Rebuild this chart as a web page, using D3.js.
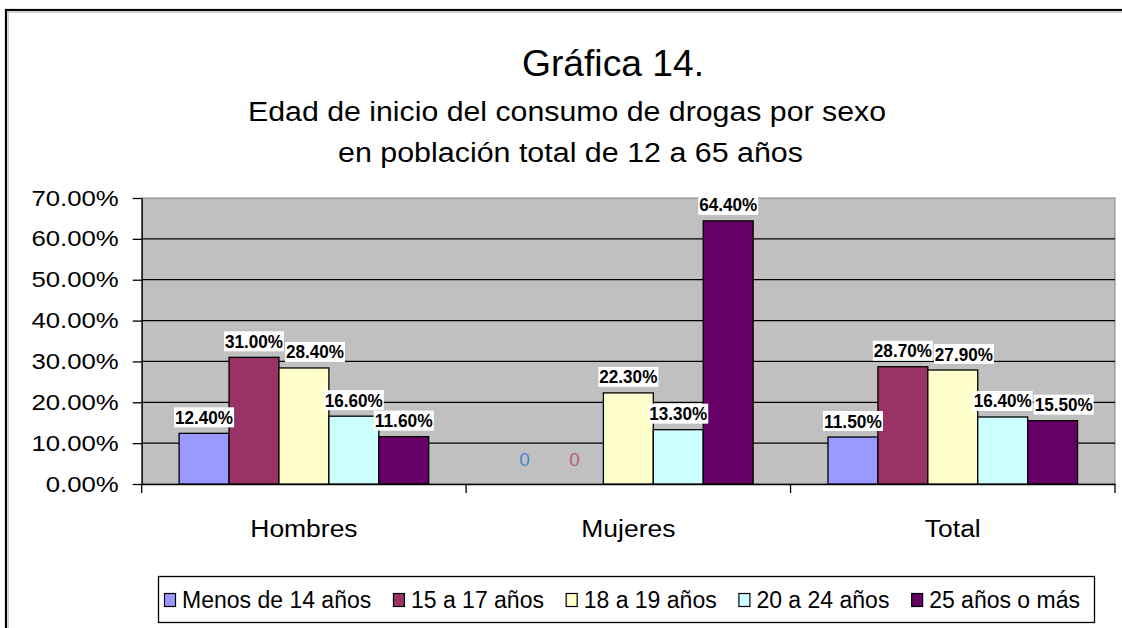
<!DOCTYPE html>
<html>
<head>
<meta charset="utf-8">
<script src="https://cdn.jsdelivr.net/npm/d3@7"></script>
<style>
  html, body { margin: 0; padding: 0; background: #fff; }
  svg { display: block; font-family: "Liberation Sans", Arial, sans-serif; }
</style>
</head>
<body>
<svg id="chart" width="1122" height="628"></svg>
<script>
// ---- data ----
const categories = ["Hombres", "Mujeres", "Total"];
const seriesNames = ["Menos de 14 años", "15 a 17 años", "18 a 19 años", "20 a 24 años", "25 años o más"];
const menos14 = [12.4, 0, 11.5];
const de15a17 = [31.0, 0, 28.7];
const de18a19 = [28.4, 22.3, 27.9];
const de20a24 = [16.6, 13.3, 16.4];
const de25mas = [11.6, 64.4, 15.5];
const yTicks = [0, 10, 20, 30, 40, 50, 60, 70];
const titleText = "Gráfica 14.";
const subtitle1 = "Edad de inicio del consumo de drogas por sexo";
const subtitle2 = "en población total de 12 a 65 años";

// ---- styles ----
const colors = ["#9999FF", "#993366", "#FFFFCC", "#CCFFFF", "#660066"];
const zeroColors = ["#3f87d3", "#b55d88", "#666", "#666", "#666"];

const seriesValues = [menos14, de15a17, de18a19, de20a24, de25mas];

const svg = d3.select("#chart");

// outer frame
svg.append("rect").attr("x", 6).attr("y", 10).attr("width", 1140).attr("height", 640)
  .attr("fill", "none").attr("stroke", "#000").attr("stroke-width", 2.2);
svg.append("rect").attr("x", 8.2).attr("y", 12.2).attr("width", 1140).attr("height", 640)
  .attr("fill", "none").attr("stroke", "#aaa").attr("stroke-width", 0.8);

// titles
svg.append("text").attr("x", 613).attr("y", 76).attr("text-anchor", "middle")
  .attr("font-size", 37).attr("fill", "#000")
  .attr("textLength", 182).attr("lengthAdjust", "spacingAndGlyphs").text(titleText);
svg.append("text").attr("x", 567).attr("y", 121).attr("text-anchor", "middle")
  .attr("font-size", 27).attr("fill", "#000")
  .attr("textLength", 638).attr("lengthAdjust", "spacingAndGlyphs").text(subtitle1);
svg.append("text").attr("x", 570.5).attr("y", 162).attr("text-anchor", "middle")
  .attr("font-size", 27).attr("fill", "#000")
  .attr("textLength", 465).attr("lengthAdjust", "spacingAndGlyphs").text(subtitle2);

// scales
const plotL = 141.7, plotR = 1115, plotT = 198, plotB = 484;
const x0 = d3.scaleBand().domain(categories).range([plotL, plotR]).paddingInner(0).paddingOuter(0);
const x1 = d3.scaleBand().domain(seriesNames).range([0, x0.bandwidth()]).paddingInner(0).paddingOuter(0.75);
const y = d3.scaleLinear().domain([0, 70]).range([plotB, plotT]);

// plot background
svg.append("rect").attr("x", plotL).attr("y", plotT).attr("width", plotR - plotL).attr("height", plotB - plotT)
  .attr("fill", "#C0C0C0").attr("stroke", "#808080").attr("stroke-width", 1);

// gridlines
svg.append("g").selectAll("line").data(yTicks.filter(t => t > 0 && t < 70)).join("line")
  .attr("x1", plotL).attr("x2", plotR)
  .attr("y1", d => y(d)).attr("y2", d => y(d))
  .attr("stroke", "#000").attr("stroke-width", 1.3);

// y axis
const yAxis = svg.append("g").attr("transform", `translate(${plotL},0)`)
  .call(d3.axisLeft(y).tickValues(yTicks).tickFormat(d => d.toFixed(2) + "%").tickSize(9).tickSizeOuter(0).tickPadding(14));
yAxis.select(".domain").attr("stroke", "#000").attr("stroke-width", 1.3);
yAxis.selectAll(".tick line").attr("stroke", "#000").attr("stroke-width", 1.3);
yAxis.selectAll(".tick text").attr("font-size", 22).attr("fill", "#000")
  .attr("font-family", "'Liberation Sans', Arial, sans-serif")
  .each(function () {
    const w = this.getComputedTextLength();
    d3.select(this).attr("textLength", w * 1.17).attr("lengthAdjust", "spacingAndGlyphs");
  });

// x axis
const xAxis = svg.append("g").attr("transform", `translate(0,${plotB})`)
  .call(d3.axisBottom(x0).tickSize(0).tickPadding(37));
xAxis.select(".domain").attr("stroke", "#000").attr("stroke-width", 1.3);
xAxis.selectAll(".tick text").attr("font-size", 23).attr("fill", "#000")
  .attr("font-family", "'Liberation Sans', Arial, sans-serif")
  .each(function () {
    const w = this.getComputedTextLength();
    d3.select(this).attr("textLength", w * 1.15).attr("lengthAdjust", "spacingAndGlyphs");
  });
// category boundary ticks
const boundaries = categories.map(c => x0(c)).concat([x0(categories[categories.length - 1]) + x0.bandwidth()]);
svg.append("g").selectAll("line").data(boundaries).join("line")
  .attr("x1", d => d).attr("x2", d => d).attr("y1", plotB).attr("y2", plotB + 9)
  .attr("stroke", "#000").attr("stroke-width", 1.3);

// bars
const barData = [];
categories.forEach((c, ci) => {
  seriesNames.forEach((s, si) => {
    barData.push({ cat: c, ser: s, si, value: seriesValues[si][ci] });
  });
});
svg.append("g").selectAll("rect").data(barData.filter(d => d.value > 0)).join("rect")
  .attr("x", d => x0(d.cat) + x1(d.ser))
  .attr("y", d => y(d.value))
  .attr("width", x1.bandwidth())
  .attr("height", d => y(0) - y(d.value))
  .attr("fill", d => colors[d.si])
  .attr("stroke", "#000").attr("stroke-width", 1.3);

// data labels with simple collision avoidance
const labelW = 60, labelH = 20;
const labelG = svg.append("g");
categories.forEach(c => {
  const placed = [];
  barData.filter(d => d.cat === c).forEach(d => {
    const cx = x0(d.cat) + x1(d.ser) + x1.bandwidth() / 2;
    if (d.value === 0) {
      labelG.append("text").attr("x", cx - 4).attr("y", y(0) - 18)
        .attr("text-anchor", "middle").attr("font-size", 19)
        .attr("fill", zeroColors[d.si]).text("0");
      return;
    }
    const bottom = y(d.value) - 6;
    let box = { x: cx - labelW / 2, y: bottom - labelH, w: labelW, h: labelH };
    let moved = true;
    while (moved) {
      moved = false;
      for (const p of placed) {
        const ox = box.x < p.x + p.w && box.x + box.w > p.x;
        const oy = box.y < p.y + p.h && box.y + box.h > p.y;
        if (ox && oy) { box.x = p.x + p.w + 1; moved = true; }
      }
    }
    placed.push(box);
    labelG.append("rect").attr("x", box.x).attr("y", box.y).attr("width", box.w).attr("height", box.h)
      .attr("fill", "#fff");
    labelG.append("text").attr("x", box.x + box.w / 2).attr("y", box.y + box.h - 3.5)
      .attr("text-anchor", "middle").attr("font-size", 18).attr("font-weight", "bold")
      .attr("fill", "#000").attr("textLength", 58).attr("lengthAdjust", "spacingAndGlyphs")
      .text(d.value.toFixed(2) + "%");
  });
});

// legend
const legG = svg.append("g");
legG.append("rect").attr("x", 158.5).attr("y", 576.5).attr("width", 936).attr("height", 46)
  .attr("fill", "#fff").attr("stroke", "#000").attr("stroke-width", 1.3);
const legStart = 164, legEnd = 1080, markerW = 11, markerGap = 7;
const items = legG.selectAll("g.item").data(seriesNames).join("g").attr("class", "item");
items.append("rect").attr("class", "mk").attr("width", markerW).attr("height", 13)
  .attr("y", 593.5).attr("fill", (d, i) => colors[i]).attr("stroke", "#000").attr("stroke-width", 1.2);
items.append("text").attr("font-size", 23).attr("fill", "#000").attr("y", 608).text(d => d);
const widths = [];
items.select("text").each(function () { widths.push(this.getComputedTextLength()); });
const totalW = d3.sum(widths) + seriesNames.length * (markerW + markerGap);
const gap = (legEnd - legStart - totalW) / (seriesNames.length - 1);
let cur = legStart;
items.each(function (d, i) {
  const g = d3.select(this);
  g.select("rect.mk").attr("x", cur + 0.5);
  g.select("text").attr("x", cur + markerW + markerGap);
  cur += markerW + markerGap + widths[i] + gap;
});
</script>
</body>
</html>
